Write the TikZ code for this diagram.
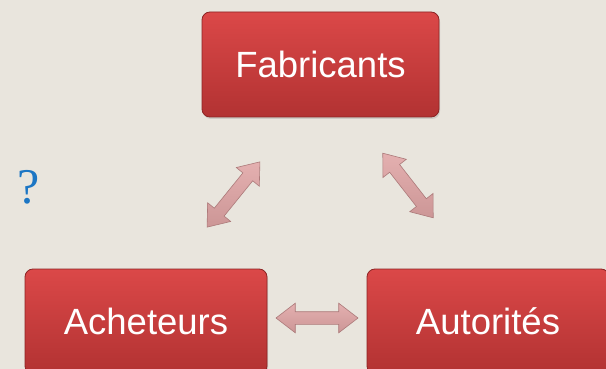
\documentclass[tikz,border=0pt]{standalone}
\usepackage{fontspec}
\setmainfont{Liberation Sans}
\newfontfamily\qfont{Liberation Serif}
\usetikzlibrary{shapes.arrows,shadows}

\definecolor{paper}{RGB}{233,229,221}
\definecolor{boxtop}{RGB}{219,72,72}
\definecolor{boxbot}{RGB}{178,50,50}
\definecolor{boxedge}{RGB}{140,36,36}
\definecolor{linktop}{RGB}{228,176,176}
\definecolor{linkmid}{RGB}{251,230,230}
\definecolor{linkbot}{RGB}{204,150,150}
\definecolor{linkedge}{RGB}{172,122,122}
\definecolor{qblue}{RGB}{28,118,196}

\begin{document}
\begin{tikzpicture}[x=1pt,y=-1pt]
  \tikzstyle{actor}=[draw=boxedge, line width=0.8pt, rounded corners=8pt,
    minimum width=237pt, minimum height=105pt, top color=boxtop, bottom color=boxbot,
    text=white, font=\fontsize{36.5}{40}\selectfont,
    drop shadow={opacity=0.25, shadow xshift=1pt, shadow yshift=-2pt}]
  \tikzstyle{link}=[double arrow, draw=linkedge, line width=0.6pt,
    inner xsep=0pt, inner ysep=6pt, minimum height=82pt,
    double arrow head extend=8.5pt, double arrow tip angle=75,
    top color=linktop, middle color=linkmid, bottom color=linkbot]

  % background
  \fill[paper] (0,0) rectangle (606,369);
  \clip (0,0) rectangle (606,369);

  \node[actor] (fab) at (320.5,64.5) {Fabricants};
  \node[actor, minimum width=242pt] (ach) at (146,321.5) {Acheteurs};
  \node[actor, minimum width=242pt] (aut) at (488,321.5) {Autorités};

  \node[text=qblue, font=\qfont\fontsize{50}{50}\selectfont] (q) at (29,187) {?};

  % links between the three parties
  \node[link, rotate=51, minimum height=84pt] (fa) at (233.5,194.5) {};
  \node[link, rotate=-52] (fu) at (408,185.5) {};
  \node[link] (au) at (317,318) {};
\end{tikzpicture}
\end{document}
